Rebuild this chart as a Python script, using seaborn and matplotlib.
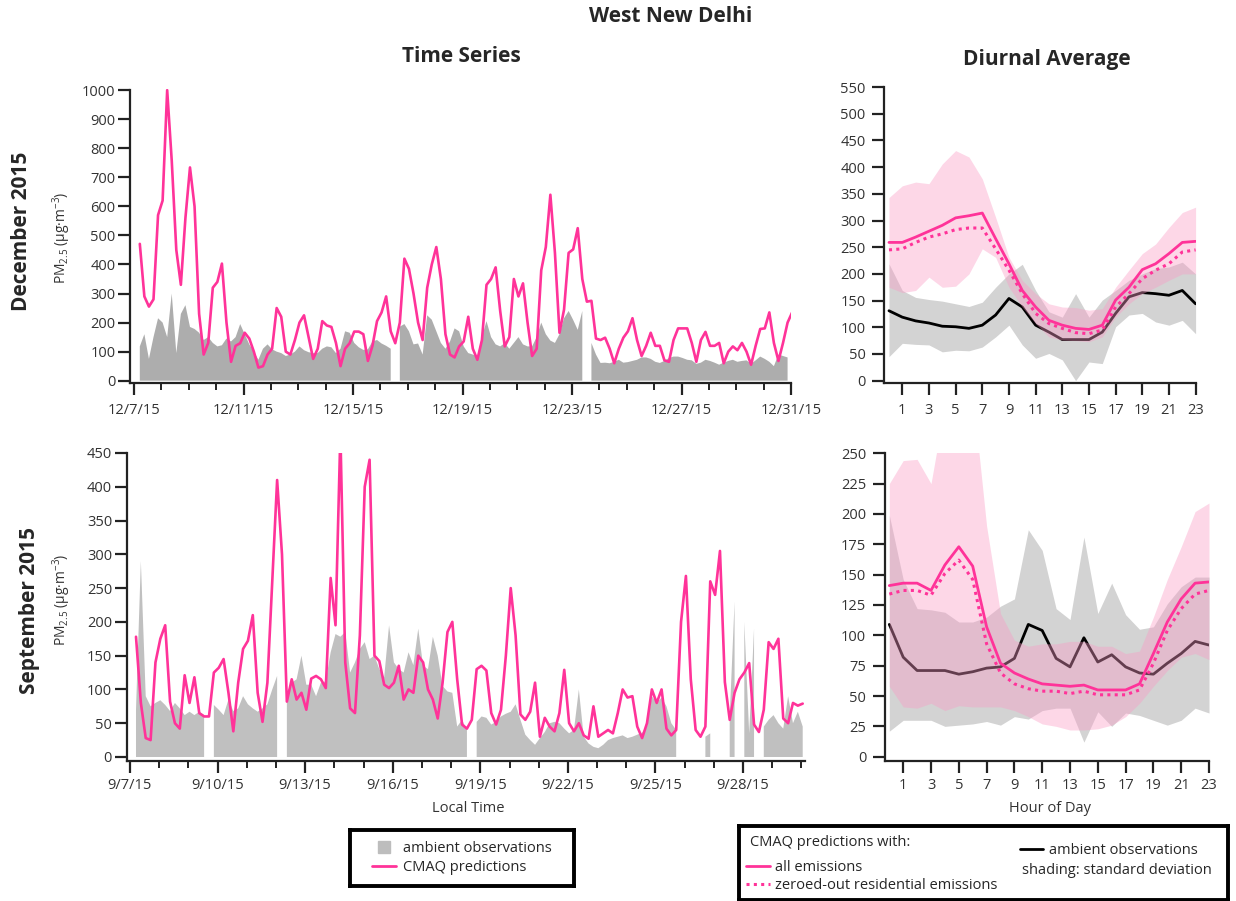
import numpy as np
import pandas as pd
import matplotlib
matplotlib.use('Agg')
import matplotlib.pyplot as plt
import matplotlib.dates as mdates
from matplotlib.lines import Line2D
from matplotlib.legend import Legend
import seaborn as sns

nan = np.nan

# ---------------- DATA ----------------
# Time series, 4-hourly values (µg/m3)
dec_start = '2015-12-07 05:00'
dec_cmaq = [471, 290, 255, 280, 570, 620, 1000, 757, 450, 330,
            560, 734, 600, 230, 90, 130, 320, 340, 403, 200,
            65, 120, 129, 165, 145, 100, 45, 50, 90, 110,
            250, 220, 100, 90, 140, 200, 225, 150, 75, 110,
            205, 190, 185, 130, 50, 110, 129, 169, 169, 160,
            68, 120, 205, 235, 290, 170, 129, 200, 420, 385,
            300, 200, 140, 320, 400, 460, 350, 160, 90, 80,
            118, 135, 220, 110, 72, 140, 330, 350, 390, 240,
            118, 150, 350, 290, 335, 200, 85, 110, 380, 460,
            640, 440, 165, 245, 440, 452, 525, 350, 272, 275,
            145, 140, 148, 110, 60, 110, 148, 170, 215, 140,
            85, 120, 165, 120, 120, 70, 65, 140, 180, 180,
            180, 130, 65, 140, 168, 120, 120, 130, 60, 100,
            118, 105, 130, 100, 55, 120, 178, 180, 235, 130,
            68, 130, 200, 235]
dec_obs = [118, 160, 75, 150, 215, 200, 150, 300, 95, 230,
           260, 185, 178, 165, 140, 150, 130, 118, 122, 145,
           135, 150, 195, 160, 125, 100, 72, 110, 125, 108,
           100, 95, 85, 90, 100, 118, 105, 98, 95, 95,
           110, 118, 115, 95, 110, 170, 165, 130, 115, 106,
           108, 135, 140, 128, 120, 110, nan, 186, 195, 170,
           125, 128, 90, 225, 210, 170, 130, 110, 135, 180,
           170, 118, 95, 90, 83, 150, 205, 150, 125, 118,
           129, 110, 130, 150, 125, 118, 118, 150, 200, 160,
           138, 130, 160, 215, 240, 209, 175, 240, nan, 130,
           90, 61, 62, 60, 65, 72, 62, 64, 68, 72,
           80, 80, 75, 65, 61, 68, 78, 83, 83, 78,
           72, 70, 58, 62, 72, 68, 62, 55, 62, 68,
           72, 65, 68, 70, 58, 70, 83, 75, 65, 50,
           90, 85, 80, nan]

sep_start = '2015-09-07 05:00'
sep_cmaq = [178, 80, 28, 25, 140, 175, 195, 82, 50, 42,
            121, 80, 118, 65, 60, 60, 125, 132, 145, 95,
            38, 110, 160, 172, 210, 95, 52, 110, 260, 410,
            300, 82, 115, 85, 95, 70, 116, 120, 115, 102,
            265, 195, 480, 140, 72, 65, 180, 400, 440, 150,
            142, 107, 102, 110, 135, 85, 100, 95, 150, 140,
            100, 85, 57, 110, 185, 200, 115, 48, 42, 55,
            130, 135, 128, 65, 48, 70, 150, 250, 180, 63,
            55, 67, 110, 30, 58, 45, 38, 65, 129, 50,
            38, 50, 32, 27, 75, 30, 35, 40, 35, 65,
            100, 88, 90, 45, 28, 50, 100, 80, 100, 42,
            32, 40, 200, 268, 115, 40, 30, 45, 260, 240,
            305, 111, 55, 95, 115, 125, 139, 48, 37, 70,
            170, 160, 175, 57, 50, 80, 76, 79]
sep_obs = [70, 290, 90, 75, 80, 84, 77, 68, 80, 72,
           62, 67, 62, 67, 62, nan, 77, 70, 62, 85,
           68, 72, 90, 78, 72, 67, 72, 78, 100, 120,
           nan, 95, 110, 115, 150, 107, 107, 90, 110, 112,
           155, 182, 178, 185, 125, 140, 160, 170, 145, 150,
           130, 118, 195, 140, 130, 125, 155, 136, 190, 135,
           130, 178, 150, 105, 97, 95, 45, 55, 40, nan,
           52, 60, 58, 48, 52, 60, 64, 67, 78, 55,
           33, 25, 18, 28, 37, 50, 52, 50, 42, 35,
           40, 100, 30, 20, 15, 13, 18, 25, 28, 30,
           32, 28, 30, 33, 36, 45, 90, 80, 88, 75,
           50, 40, nan, nan, nan, nan, nan, 30, 35, nan,
           nan, nan, 60, 230, nan, 200, 35, 190, nan, 45,
           55, 62, 50, 42, 90, 50, 67, 45]

dec_date_labels = ['12/7/15', '12/11/15', '12/15/15', '12/19/15',
                   '12/23/15', '12/27/15', '12/31/15']
sep_date_labels = ['9/7/15', '9/10/15', '9/13/15', '9/16/15', '9/19/15',
                   '9/22/15', '9/25/15', '9/28/15']

# Diurnal averages, hour 0..23
hours = list(range(24))
dec_all = [259, 259, 269, 280, 291, 305, 309, 314, 266, 219, 169, 138,
           113, 104, 98, 96, 104, 151, 175, 208, 219, 238, 259, 261]
dec_zero = [245, 247, 259, 269, 275, 283, 286, 286, 247, 207, 163, 126,
            107, 98, 90, 88, 95, 138, 163, 191, 207, 219, 241, 245]
dec_pink_hi = [343, 365, 372, 369, 406, 431, 419, 378, 306, 231, 188, 163,
               144, 138, 137, 132, 135, 175, 207, 238, 256, 287, 315, 325]
dec_pink_lo = [175, 165, 169, 194, 175, 177, 200, 247, 231, 175, 138, 107,
               82, 76, 75, 73, 82, 119, 144, 163, 175, 188, 200, 200]
dec_obs_mean = [131, 119, 112, 108, 102, 101, 98, 104, 123, 154, 138, 104,
                91, 77, 77, 77, 91, 126, 157, 165, 163, 160, 169, 144]
dec_obs_hi = [219, 169, 156, 152, 149, 144, 139, 147, 175, 200, 218, 169,
              129, 119, 163, 119, 151, 169, 188, 200, 210, 213, 222, 200]
dec_obs_lo = [45, 70, 68, 67, 54, 57, 56, 63, 82, 104, 67, 42,
              51, 39, 0, 35, 32, 101, 123, 126, 110, 104, 113, 88]

sep_all = [141, 143, 143, 137, 158, 173, 157, 107, 77, 69, 64, 60,
           59, 58, 59, 55, 55, 55, 60, 85, 111, 130, 143, 144]
sep_zero = [134, 137, 137, 133, 151, 162, 146, 93, 69, 60, 56, 54,
            54, 52, 54, 51, 51, 51, 55, 77, 104, 122, 134, 137]
sep_pink_hi = [225, 244, 245, 225, 290, 320, 300, 190, 118, 96, 91, 93,
               93, 95, 95, 91, 91, 85, 87, 115, 146, 173, 202, 209]
sep_pink_lo = [58, 41, 40, 44, 38, 42, 41, 41, 41, 38, 33, 27,
               25, 22, 22, 23, 26, 33, 44, 58, 71, 82, 85, 80]
sep_obs_mean = [109, 82, 71, 71, 71, 68, 70, 73, 74, 81, 109, 104,
                81, 74, 98, 78, 84, 74, 69, 68, 77, 85, 95, 92]
sep_obs_hi = [199, 146, 122, 121, 119, 111, 111, 115, 124, 130, 187, 170,
              122, 113, 181, 118, 143, 117, 105, 107, 126, 140, 148, 148]
sep_obs_lo = [21, 30, 30, 30, 25, 26, 27, 29, 26, 33, 31, 38,
              40, 40, 12, 37, 25, 36, 34, 30, 26, 30, 40, 36]

# ---------------- STYLE ----------------
sns.set_style('ticks')
plt.rcParams['font.family'] = ['Open Sans', 'DejaVu Sans']
plt.rcParams['mathtext.fontset'] = 'custom'
plt.rcParams['mathtext.rm'] = 'Open Sans'
plt.rcParams['mathtext.it'] = 'Open Sans:italic'
plt.rcParams['mathtext.bf'] = 'Open Sans:bold'

PINK = '#FF3399'
AX_COL = '#222222'
LBL_COL = '#333333'
W, H = 1236, 901

fig = plt.figure(figsize=(W / 100, H / 100), dpi=100)


def px_axes(l, t, r, b):
    return fig.add_axes([l / W, 1 - b / H, (r - l) / W, (b - t) / H])


def style_axes(ax, xpad=6, ypad=2):
    for s in ['top', 'right']:
        ax.spines[s].set_visible(False)
    for s in ['left', 'bottom']:
        ax.spines[s].set_linewidth(1.6)
        ax.spines[s].set_color(AX_COL)
    ax.tick_params(which='major', direction='out', length=8.5, width=1.6,
                   color=AX_COL, labelsize=10.5, labelcolor=LBL_COL)
    ax.tick_params(which='minor', direction='out', length=5, width=1.4,
                   color=AX_COL)
    ax.tick_params(axis='x', pad=xpad)
    ax.tick_params(axis='y', pad=ypad)


def time_series(ax, start, cmaq, obs, obs_color, labels, xlim_days, ymax, ystep):
    times = pd.date_range(start, periods=len(cmaq), freq='4h')
    x = mdates.date2num(times)
    obs_arr = np.array(obs, dtype=float)
    ax.fill_between(x, 0, obs_arr, where=~np.isnan(obs_arr),
                    color=obs_color, linewidth=0, zorder=1)
    sns.lineplot(x=x, y=np.array(cmaq, dtype=float), ax=ax, color=PINK,
                 linewidth=1.9, zorder=3, legend=False)
    tick_pos = mdates.date2num(pd.to_datetime(labels, format='%m/%d/%y'))
    ax.set_xticks(tick_pos, labels)
    ax.xaxis.set_minor_locator(mdates.DayLocator())
    ax.set_xlim(tick_pos[0] + xlim_days[0], tick_pos[0] + xlim_days[1])
    ax.set_yticks(np.arange(0, ymax + 1, ystep))
    ax.set_xlabel('')
    ax.set_ylabel('')


def diurnal(ax, all_e, zero_e, p_hi, p_lo, o_mean, o_hi, o_lo, ymax, ystep, xlim):
    ax.fill_between(hours, o_lo, o_hi, color='#D3D3D3', linewidth=0, zorder=1)
    sns.lineplot(x=hours, y=o_mean, ax=ax, color='black', linewidth=2.0,
                 zorder=2, legend=False)
    ax.fill_between(hours, p_lo, p_hi, color='#FA9BC5', alpha=0.4,
                    linewidth=0, zorder=3)
    sns.lineplot(x=hours, y=all_e, ax=ax, color=PINK, linewidth=2.0,
                 zorder=4, legend=False)
    sns.lineplot(x=hours, y=zero_e, ax=ax, color=PINK, linewidth=2.2,
                 linestyle=(0, (1, 1.4)), zorder=4, legend=False)
    ax.set_xticks(range(1, 24, 2))
    ax.set_xlim(*xlim)
    ax.set_yticks(np.arange(0, ymax + 1, ystep))
    ax.set_xlabel('')
    ax.set_ylabel('')


# ---------------- PANELS ----------------
ax1 = px_axes(130, 89, 791, 383.3)
time_series(ax1, dec_start, dec_cmaq, dec_obs, '#ADADAD', dec_date_labels,
            (-0.15, 24.0), 1000, 100)
ax1.set_ylim(-9, 1004)
ax1.spines['left'].set_bounds(-9, 1000)
style_axes(ax1)

ax2 = px_axes(126.7, 453, 805, 760.7)
time_series(ax2, sep_start, sep_cmaq, sep_obs, '#C0C0C0', sep_date_labels,
            (-0.11, 23.12), 450, 50)
ax2.set_ylim(-5.5, 450)
style_axes(ax2, xpad=4)

ax3 = px_axes(884.3, 86, 1196, 383.3)
diurnal(ax3, dec_all, dec_zero, dec_pink_hi, dec_pink_lo, dec_obs_mean,
        dec_obs_hi, dec_obs_lo, 550, 50, (-0.35, 23.03))
ax3.set_ylim(-4.9, 552)
ax3.spines['left'].set_bounds(-4.9, 550)
style_axes(ax3, ypad=5)

ax4 = px_axes(885, 453.3, 1209, 760.7)
diurnal(ax4, sep_all, sep_zero, sep_pink_hi, sep_pink_lo, sep_obs_mean,
        sep_obs_hi, sep_obs_lo, 250, 25, (-0.31, 23.0))
ax4.set_ylim(-3.3, 250)
style_axes(ax4, xpad=4, ypad=5)

# ---------------- TEXT ----------------
fig.text(671 / W, 1 - 16 / H, 'West New Delhi', ha='center', va='center',
         fontsize=15, fontweight='bold')
fig.text(461 / W, 1 - 56 / H, 'Time Series', ha='center', va='center',
         fontsize=15, fontweight='bold')
fig.text(1047 / W, 1 - 59 / H, 'Diurnal Average', ha='center', va='center',
         fontsize=15, fontweight='bold')
fig.text(22 / W, 1 - 231 / H, 'December 2015', rotation=90, ha='center',
         va='center', fontsize=15, fontweight='bold')
fig.text(30 / W, 1 - 610 / H, 'September 2015', rotation=90, ha='center',
         va='center', fontsize=15, fontweight='bold')
pm_label = r'PM$_{2.5}$ (µg·m$^{-3}$)'
fig.text(62 / W, 1 - 238 / H, pm_label, rotation=90, ha='center',
         va='center', fontsize=10, color=LBL_COL)
fig.text(62 / W, 1 - 600 / H, pm_label, rotation=90, ha='center',
         va='center', fontsize=10, color=LBL_COL)
fig.text(468 / W, 1 - 808 / H, 'Local Time', ha='center', va='center',
         fontsize=10.5, color=LBL_COL)
fig.text(1050 / W, 1 - 808 / H, 'Hour of Day', ha='center', va='center',
         fontsize=10.5, color=LBL_COL)


# ---------------- LEGENDS ----------------
def legend_box(l, t, r, b):
    ax = px_axes(l, t, r, b)
    ax.set_xticks([])
    ax.set_yticks([])
    ax.set_facecolor('white')
    for s in ax.spines.values():
        s.set_visible(True)
        s.set_linewidth(2.8)
        s.set_color('black')
    return ax


lb1 = legend_box(350, 830, 574, 886)
h1 = [Line2D([], [], marker='s', markersize=9, color='#BDBDBD', linestyle='none'),
      Line2D([], [], color=PINK, linewidth=2)]
lb1.legend(h1, ['ambient observations', 'CMAQ predictions'], loc='center',
           frameon=False, fontsize=10.5, handlelength=1.6, handletextpad=0.5,
           labelspacing=0.25, borderpad=0)

lb2 = legend_box(739, 826, 1228, 899.5)
lb2.text((750 - 739) / 489, 1 - (843 - 826) / 73.5, 'CMAQ predictions with:',
         transform=lb2.transAxes, ha='left', va='center', fontsize=10.5)
h2 = [Line2D([], [], color=PINK, linewidth=2),
      Line2D([], [], color=PINK, linewidth=2.2, linestyle=(0, (1, 1.4)))]
lb2.legend(h2, ['all emissions', 'zeroed-out residential emissions'],
           loc='upper left', bbox_to_anchor=(0.0, 1 - (853 - 826) / 73.5),
           frameon=False, fontsize=10.5, handlelength=1.6, handletextpad=0.4,
           labelspacing=0.2, borderpad=0, borderaxespad=0.5)
leg3 = Line2D([], [], color='black', linewidth=2)
l3 = Legend(lb2, [leg3], ['ambient observations'], loc='upper left',
            bbox_to_anchor=((1020 - 739) / 489, 1 - (843 - 826) / 73.5),
            frameon=False, fontsize=10.5, handlelength=1.6, handletextpad=0.4,
            borderpad=0, borderaxespad=0)
lb2.add_artist(l3)
lb2.text((1022 - 739) / 489, 1 - (871 - 826) / 73.5, 'shading: standard deviation',
         transform=lb2.transAxes, ha='left', va='center', fontsize=10.5)

fig.savefig('out.png', dpi=100)
